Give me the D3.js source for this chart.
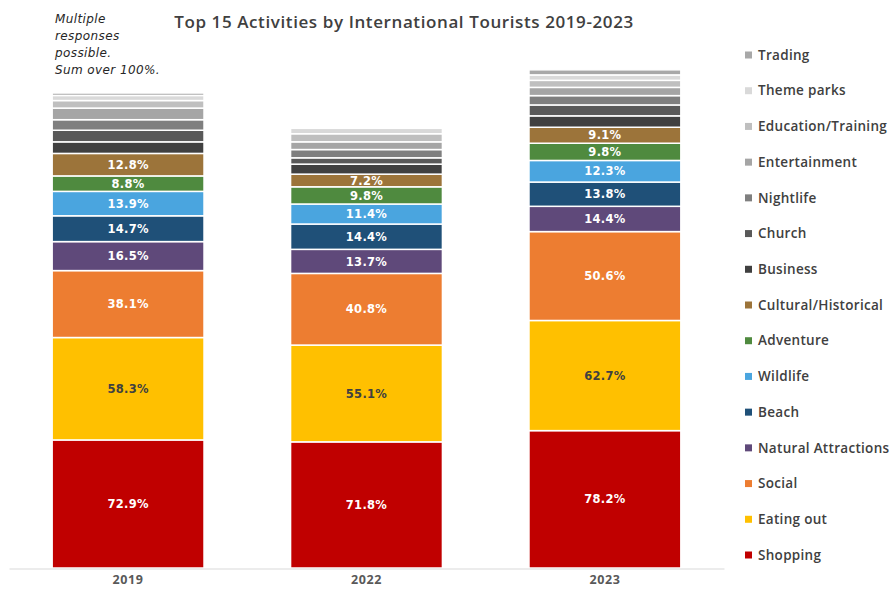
<!DOCTYPE html>
<html>
<head>
<meta charset="utf-8">
<script src="https://cdn.jsdelivr.net/npm/d3@7"></script>
<style>
  body { margin: 0; background: #fff; }
  text { font-family: "Open Sans", sans-serif; }
</style>
</head>
<body>
<div class="chart"></div>
<script>
// data, stacked bottom -> top
const years = ["2019", "2022", "2023"];
const activities = ["Shopping", "Eating out", "Social", "Natural Attractions", "Beach", "Wildlife",
    "Adventure", "Cultural/Historical", "Business", "Church", "Nightlife", "Entertainment",
    "Education/Training", "Theme parks", "Trading"];

const shopping = [72.9, 71.8, 78.2];
const eatingOut = [58.3, 55.1, 62.7];
const social = [38.1, 40.8, 50.6];
const naturalAttractions = [16.5, 13.7, 14.4];
const beach = [14.7, 14.4, 13.8];
const wildlife = [13.9, 11.4, 12.3];
const adventure = [8.8, 9.8, 9.8];
const cultural = [12.8, 7.2, 9.1];
// unlabelled segments
const business = [6.6, 5.7, 6.5];
const church = [6.6, 3.6, 6.2];
const nightlife = [6.0, 4.7, 5.3];
const entertainment = [6.6, 4.4, 4.7];
const education = [4.3, 4.6, 4.0];
const themeParks = [2.9, 3.1, 3.1];
const trading = [1.4, 0, 2.9];

const series_values = [shopping, eatingOut, social, naturalAttractions, beach, wildlife, adventure,
    cultural, business, church, nightlife, entertainment, education, themeParks, trading];
const labelled = 8; // only the first 8 series carry value labels

const colors = ["#c00000", "#ffc000", "#ed7d31", "#5f497a", "#1f5078", "#4aa5df", "#4f8a3f",
    "#9c743a", "#404040", "#595959", "#7f7f7f", "#a5a5a5", "#bfbfbf", "#d9d9d9", "#a8a8a8"];

const svg_width = 890;
const svg_height = 590;
const baseline = 568;

const table = years.map((yr, i) => {
    const row = {year: yr};
    activities.forEach((a, j) => row[a] = series_values[j][i]);
    return row;
});
const stacked = d3.stack().keys(activities)(table);

const svg = d3.select(".chart").append("svg")
    .attr("width", svg_width).attr("height", svg_height);

const xScale = d3.scaleBand().domain(years)
    .range([9, 724])
    .paddingInner(0.363)
    .paddingOuter(0.181);
const yScale = d3.scaleLinear([0, 300], [baseline, 41]);
const color = d3.scaleOrdinal(activities, colors);

// bars
const layers = svg.append("g").selectAll("g")
    .data(stacked)
    .enter().append("g")
    .attr("fill", d => color(d.key));

layers.selectAll("rect")
    .data(d => d)
    .enter().append("rect")
    .attr("x", d => xScale(d.data.year))
    .attr("y", d => yScale(d[1]))
    .attr("width", xScale.bandwidth())
    .attr("height", d => Math.max(0, yScale(d[0]) - yScale(d[1])))
    .attr("stroke", "#fff")
    .attr("stroke-width", 1.5);

// value labels
stacked.slice(0, labelled).forEach(layer => {
    svg.append("g").selectAll("text")
        .data(layer)
        .enter().append("text")
        .attr("x", d => xScale(d.data.year) + xScale.bandwidth() / 2)
        .attr("y", d => (yScale(d[0]) + yScale(d[1])) / 2)
        .attr("dy", "0.36em")
        .attr("text-anchor", "middle")
        .style("font-family", "'DejaVu Sans', sans-serif")
        .style("font-size", "11.5px")
        .style("font-weight", "bold")
        .style("letter-spacing", "0.3px")
        .attr("fill", layer.key === "Eating out" ? "#404040" : "#fff")
        .text(d => (d[1] - d[0]).toFixed(1) + "%");
});

// x axis
const xAxis = d3.axisBottom(xScale).tickSize(0).tickPadding(7);
const xAxisDraw = svg.append("g")
    .attr("transform", `translate(0,${baseline + 0.5})`)
    .call(xAxis);
xAxisDraw.select(".domain").attr("stroke", "#d9d9d9");
xAxisDraw.selectAll("text")
    .style("font-family", "'Open Sans', sans-serif")
    .style("font-size", "12.5px")
    .style("font-weight", "bold")
    .style("letter-spacing", "0.6px")
    .attr("fill", "#595959");

// title
svg.append("text")
    .attr("x", 404)
    .attr("y", 28)
    .attr("text-anchor", "middle")
    .style("font-size", "17px")
    .style("font-weight", "600")
    .style("letter-spacing", "0.6px")
    .attr("fill", "#404040")
    .text("Top 15 Activities by International Tourists 2019-2023");

// note
const note = svg.append("text")
    .style("font-family", "'DejaVu Sans', sans-serif")
    .style("font-size", "12px")
    .style("font-style", "italic")
    .style("letter-spacing", "0.4px")
    .attr("fill", "#262626");
["Multiple", "responses", "possible.", "Sum over 100%."].forEach((t, i) => {
    note.append("tspan").attr("x", 55).attr("y", 23 + i * 17).text(t);
});

// legend, top entry is the top of the stack
const legendY = d3.scalePoint().domain(activities.slice().reverse()).range([55, 555]);
const legend = svg.append("g").selectAll("g")
    .data(activities)
    .enter().append("g")
    .attr("transform", d => `translate(745,${legendY(d)})`);
legend.append("rect")
    .attr("x", 0).attr("y", -3.5)
    .attr("width", 7).attr("height", 7)
    .attr("fill", d => color(d));
legend.append("text")
    .attr("x", 13)
    .attr("dy", "0.35em")
    .style("font-size", "13.5px")
    .style("font-weight", "600")
    .style("letter-spacing", "0.3px")
    .attr("fill", "#404040")
    .text(d => d);
</script>
</body>
</html>
